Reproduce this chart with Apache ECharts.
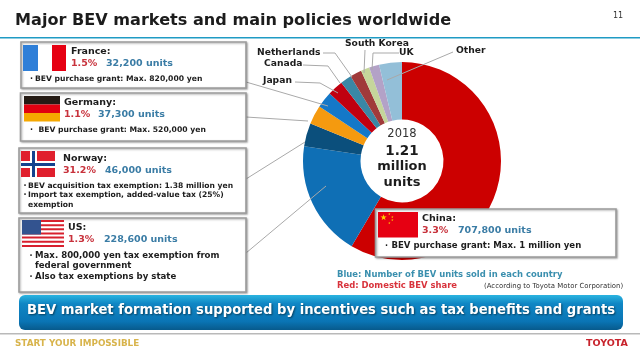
<!DOCTYPE html>
<html><head><meta charset="utf-8">
<style>html,body{margin:0;padding:0;background:#fff}#c{width:640px;height:359px}</style>
<script src="https://cdn.jsdelivr.net/npm/echarts@6/dist/echarts.min.js"></script></head>
<body><div id="c"></div>
<script>
const categories=['China','US','Norway','Germany','France','Japan','Canada','Netherlands','South Korea','UK','Other'];
const units=[707800,228600,46000,37300,32200,31000,22000,23000,17000,20000,45000];
const sliceColors=['#cc0000','#0f6fb5','#0b4f7c','#f59a0f','#1478c8','#c00010','#3a87a5','#a03a3a','#c5d69b','#b3a2c7','#93bfd8'];
const F='"DejaVu Sans",Verdana,sans-serif';
const RED='#c8323c',BLUE='#3a7ca5',INK='#1c1c1c';
const g=[];
function T(x,y,s,size,fill,weight,opt){g.push({type:'text',x,y,z:30,style:Object.assign({text:s,font:(weight||'bold')+' '+size+'px '+F,fill:fill||INK,textVerticalAlign:'middle'},opt||{})});}
function R(x,y,w,h,fill,z){g.push({type:'rect',z:z||25,shape:{x,y,width:w,height:h},style:{fill}});}
function L(pts){g.push({type:'polyline',z:5,shape:{points:pts},style:{stroke:'#a9a9a9',lineWidth:1,fill:null}});}
function box(x,y,w,h){g.push({type:'rect',z:20,shape:{x,y,width:w,height:h},style:{fill:'#fff',stroke:'#9c9c9c',lineWidth:1.6,shadowColor:'rgba(0,0,0,.3)',shadowBlur:2,shadowOffsetX:1,shadowOffsetY:1}});}
function bullet(x,y){T(x,y,'·',8);}
function card(b,name,nx,ny,share,units,ux,lines){
  box(...b);T(nx,ny,name,9.5);T(nx,ny+12,share,9.5,RED);T(ux,ny+12,units,9.5,BLUE);
  lines.forEach(l=>{if(l[4]!==undefined)bullet(l[4],l[1]);T(l[0],l[1],l[2],l[3]||7.65);});
}
// header
T(15,21,'Major BEV markets and main policies worldwide',16.1);
T(613,16,'11',8,'#333','normal');
R(0,37,640,1.5,'#1f9bc4',3);
// leader lines
L([[323,53],[335,53],[352,77]]);L([[303,65],[328,66],[340,83]]);L([[295,82],[320,83],[338,93]]);
L([[365,50],[364,73]]);L([[399,53],[373,53],[372,70]]);L([[453,52],[387,80]]);
L([[246,82],[328,106]]);L([[246,117],[308,121]]);L([[246,179],[305,142]]);L([[246,253],[326,186]]);
// slice labels
T(345,44,'South Korea',9.2);T(399,53,'UK',9.2);T(257,53,'Netherlands',9.2);T(264,64,'Canada',9.2);T(263,81,'Japan',9.2);T(456,51,'Other',9.2);
// centre
T(402,134,'2018',11.5,'#333','normal',{textAlign:'center'});
T(402,151,'1.21',13.5,INK,'bold',{textAlign:'center'});T(402,167,'million',13,INK,'bold',{textAlign:'center'});T(402,183,'units',13,INK,'bold',{textAlign:'center'});
// cards
card([21,42,225,46],'France:',71,52,'1.5%','32,200 units',106,[[35,79,'BEV purchase grant: Max. 820,000 yen',7.65,30]]);
R(23,45,15,26,'#2f7fd8');R(38,45,14,26,'#fff');R(52,45,14,26,'#e60012');
card([20.5,93,225.5,48],'Germany:',64,103,'1.1%','37,300 units',98,[[38.5,130,'BEV purchase grant: Max. 520,000 yen',7.65,30]]);
R(24,96,36,8.5,'#241a14');R(24,104.5,36,8.5,'#e00010');R(24,113,36,8.5,'#f5a800');
card([19,148,227,65],'Norway:',63,159,'31.2%','46,000 units',105,[[28,186,'BEV acquisition tax exemption: 1.38 million yen',7.6,23.5],[28,195,'Import tax exemption, added-value tax (25%)',7.6,23.5],[28,205,'exemption',7.6]]);
R(21,151,34,26,'#e01f2d');R(30,151,7,26,'#fff');R(21,161,34,7,'#fff');R(32,151,3,26,'#14428f');R(21,163,34,3,'#14428f');
card([19,218,227,74],'US:',68,228,'1.3%','228,600 units',104,[[35,256,'Max. 800,000 yen tax exemption from',8.6,29.5],[35,266,'federal government',8.6],[35,277,'Also tax exemptions by state',8.6,29.5]]);
for(let i=0;i<7;i++){R(22,220+i*4.15,42,2,'#d8202e');}
R(22,220,19,14.5,'#33538f',26);
card([375.5,209,240.5,48],'China:',422,219,'3.3%','707,800 units',458,[[391.5,246,'BEV purchase grant: Max. 1 million yen',8.55,385]]);
R(378,212,40,25.5,'#e60012');
T(380,218,'★',8,'#ffd400','normal');
[[388,214],[391,217],[391,220],[388,223]].forEach(p=>T(p[0],p[1],'★',3,'#ffd400','normal'));
// notes
T(337,275,'Blue: Number of BEV units sold in each country',8.45,'#3a8fae');
T(337,285.5,'Red: Domestic BEV share',8.45,'#d8333c');
T(484,286,'(According to Toyota Motor Corporation)',6.95,'#333','normal');
// banner
g.push({type:'rect',z:20,shape:{x:19,y:295,width:604,height:35,r:6},style:{fill:new echarts.graphic.LinearGradient(0,0,0,1,[{offset:0,color:'#2bb4e0'},{offset:.25,color:'#0f86c4'},{offset:.75,color:'#0a75b5'},{offset:1,color:'#075a8c'}])}});
g.push({type:'text',x:27,y:311,z:30,style:{text:'BEV market formation supported by incentives such as tax benefits and grants',font:'bold 13.2px '+F,fill:'#fff',textVerticalAlign:'middle',textShadowColor:'rgba(0,0,0,.5)',textShadowBlur:2,textShadowOffsetX:1,textShadowOffsetY:1}});
// footer
R(0,333,640,1.5,'#b9b9b9',3);
T(15,344,'START YOUR IMPOSSIBLE',8.8,'#d8b44c');
T(586,344,'TOYOTA',9.5,'#c8232c');
echarts.init(document.getElementById('c'),null,{renderer:'canvas'}).setOption({
  animation:false,
  series:[{type:'pie',center:[402,161],radius:[41.5,99],startAngle:90,clockwise:true,label:{show:false},labelLine:{show:false},silent:true,
    data:categories.map((n,i)=>({name:n,value:units[i],itemStyle:{color:sliceColors[i]}}))}],
  graphic:{elements:g}
});
</script></body></html>
